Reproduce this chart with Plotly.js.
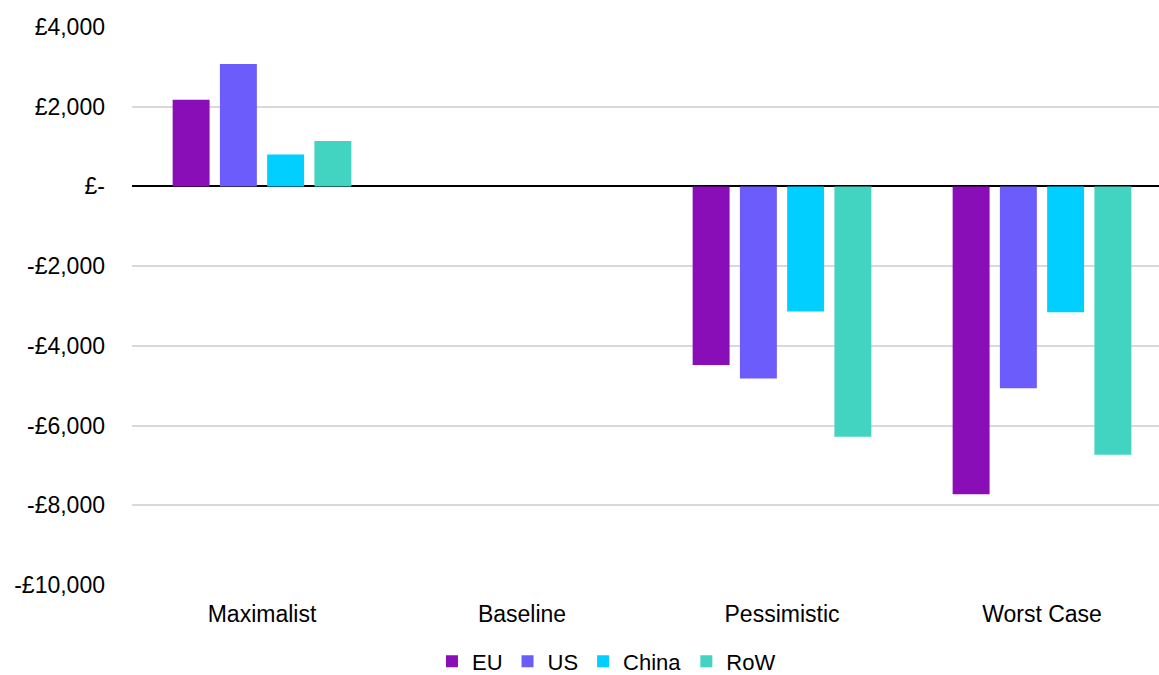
<!DOCTYPE html>
<html>
<head>
<meta charset="utf-8">
<script src="https://cdn.plot.ly/plotly-3.0.1.min.js"></script>
<style>
  html, body { margin: 0; padding: 0; background: #ffffff; }
  #chart { width: 1159px; height: 675px; }
</style>
</head>
<body>
<div id="chart"></div>
<script>
// Scenario categories along the x axis
const scenarios = ['Maximalist', 'Baseline', 'Pessimistic', 'Worst Case'];

// Change per region (£) for each scenario
const euValues    = [2176, 0, -4482, -7720];
const usValues    = [3072, 0, -4818, -5061];
const chinaValues = [803, 0, -3137, -3154];
const rowValues   = [1139, 0, -6281, -6733];

// Region names and colours
const regionNames  = ['EU', 'US', 'China', 'RoW'];
const regionColors = ['#8A0EB7', '#6B5CFB', '#00CFFF', '#42D4C0'];

// Y axis ticks in accounting style
const yTickValues = [-10000, -8000, -6000, -4000, -2000, 0, 2000, 4000];
const yTickLabels = ['-£10,000', '-£8,000', '-£6,000', '-£4,000', '-£2,000', '£-', '£2,000', '£4,000'];

const seriesValues = [euValues, usValues, chinaValues, rowValues];

const traces = regionNames.map((name, i) => ({
  type: 'bar',
  name: name,
  x: scenarios,
  y: seriesValues[i],
  marker: {
    color: regionColors[i],
    line: { width: 0 }
  },
  hoverinfo: 'x+y+name'
}));

const font = { family: 'Liberation Sans, Arial, sans-serif', size: 23, color: '#000000' };
const legendFont = { family: 'Liberation Sans, Arial, sans-serif', size: 22, color: '#000000' };

const layout = {
  width: 1159,
  height: 675,
  margin: { l: 132, r: 0, t: 27, b: 90, pad: 0, autoexpand: false },
  paper_bgcolor: '#ffffff',
  plot_bgcolor: '#ffffff',
  font: font,
  barmode: 'group',
  bargap: 0.273,
  bargroupgap: 0.218,
  showlegend: true,
  legend: {
    orientation: 'h',
    x: 0.462,
    xanchor: 'center',
    y: -0.137,
    yanchor: 'middle',
    font: legendFont,
    itemwidth: 30,
    tracegroupgap: 0,
    traceorder: 'normal'
  },
  xaxis: {
    type: 'category',
    range: [-0.5, 3.45],
    showgrid: false,
    showline: false,
    zeroline: false,
    ticks: '',
    tickfont: font,
    ticklabelstandoff: 13,
    fixedrange: true
  },
  yaxis: {
    range: [-10000, 4000],
    tickvals: yTickValues,
    ticktext: yTickLabels,
    showgrid: true,
    gridcolor: '#d9d9d9',
    gridwidth: 2,
    zeroline: true,
    zerolinecolor: '#000000',
    zerolinewidth: 2,
    showline: false,
    ticks: '',
    tickfont: font,
    ticklabelstandoff: 26,
    fixedrange: true
  }
};

Plotly.newPlot('chart', traces, layout, { displayModeBar: false, staticPlot: true });
</script>
</body>
</html>
